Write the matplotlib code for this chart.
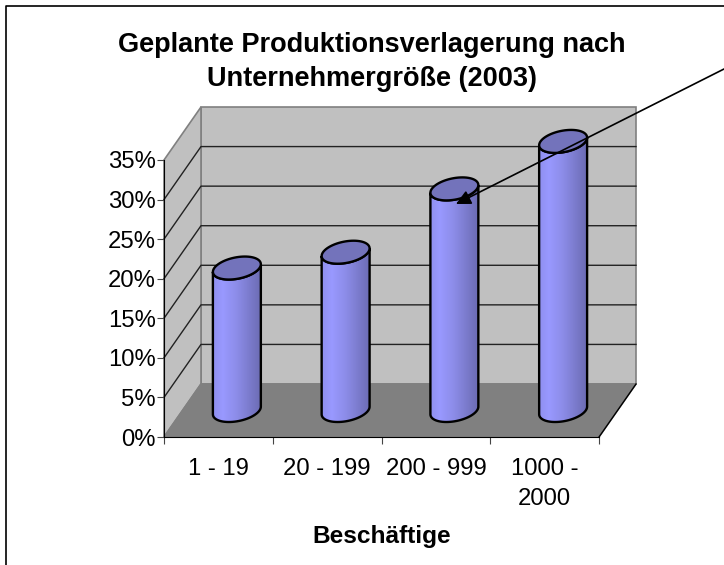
import numpy as np
import matplotlib
matplotlib.use('Agg')
import matplotlib.pyplot as plt
from matplotlib.patches import Polygon, FancyArrowPatch
from matplotlib.colors import LinearSegmentedColormap

plt.rcParams['font.family'] = ['Liberation Sans', 'DejaVu Sans']

categories = ['1 - 19', '20 - 199', '200 - 999', '1000 -\n2000']
values = [18, 20, 28, 34]
y_ticks = [0, 5, 10, 15, 20, 25, 30, 35]
title = 'Geplante Produktionsverlagerung nach\nUnternehmergröße (2003)'
x_title = 'Beschäftige'

W, H = 724, 565
fig = plt.figure(figsize=(W / 100, H / 100), dpi=100)
fig.patch.set_facecolor('white')

# figure frame
fig.add_artist(plt.Line2D([5.5 / W, 5.5 / W, 1], [0, 1 - 6 / H, 1 - 6 / H], color='black', lw=1.2))

# front plane of the 3d box
ax = fig.add_axes([164 / W, (H - 437) / H, 435 / W, 277 / H])
ax.set_xlim(0, 4)
ax.set_ylim(0, 35)
ax.patch.set_visible(False)

# depth of the box in data units
dx = 37 / 435 * 4
dy = 53 / 277 * 35


def wall(points, color, edge):
    ax.add_patch(Polygon(points, closed=True, fc=color, ec=edge, lw=1.2, clip_on=False, zorder=1))


wall([(dx, dy), (4 + dx, dy), (4 + dx, 35 + dy), (dx, 35 + dy)], '#c0c0c0', '#808080')
wall([(0, 0), (dx, dy), (dx, 35 + dy), (0, 35)], '#c0c0c0', '#808080')
wall([(0, 0), (4, 0), (4 + dx, dy), (dx, dy)], '#808080', '#808080')
ax.plot([4, 4 + dx], [0, dy], color='black', lw=1, clip_on=False, zorder=1.5)

# gridlines on both walls
for t in y_ticks[1:-1]:
    ax.plot([0, dx, 4 + dx], [t, t + dy, t + dy], color='#222222', lw=1, clip_on=False, zorder=1.5)

# cylinders
bar_cmap = LinearSegmentedColormap.from_list(
    'bar', [(0, '#9090f0'), (0.2, '#9999ff'), (0.5, '#8c8ce8'), (1, '#6c6cb4')])
rx = 22.6 / 435 * 4
skew_x = 8 / 435 * 4
ry = 11.5 / 277 * 35
t = np.linspace(0, 2 * np.pi, 73)
half_w = np.hypot(rx, skew_x)
gradient = np.linspace(0, 1, 64).reshape(1, -1)

for i, v in enumerate(values):
    cx = i + 0.5 + dx / 2
    base = dy / 2
    top = base + v
    ex = rx * np.cos(t) + skew_x * np.sin(t)
    ey = ry * np.sin(t)
    # lower half of the ellipse between the two silhouette points
    a = np.arctan2(skew_x, rx)
    lower = np.linspace(a + np.pi, a + 2 * np.pi, 37)
    lx = rx * np.cos(lower) + skew_x * np.sin(lower)
    ly = ry * np.sin(lower)
    body = np.vstack([
        np.column_stack([cx + lx, base + ly]),
        np.column_stack([cx + lx[::-1], top + ly[::-1]]),
    ])
    im = ax.imshow(gradient, extent=[cx - half_w, cx + half_w, base - ry, top + ry],
                   cmap=bar_cmap, aspect='auto', zorder=3)
    im.set_clip_path(Polygon(body, closed=True, transform=ax.transData))
    im.set_clip_box(fig.bbox)
    ax.add_patch(Polygon(body, closed=True, fc='none', ec='black', lw=1.7, clip_on=False, zorder=3.2))
    ax.add_patch(Polygon(np.column_stack([cx + ex, top + ey]), closed=True, fc='#7373bb',
                         ec='black', lw=1.7, clip_on=False, zorder=3.4))
ax.set_xlim(0, 4)
ax.set_ylim(0, 35)

# axes, ticks, labels
for s in ['top', 'right']:
    ax.spines[s].set_visible(False)
for s in ['left', 'bottom']:
    ax.spines[s].set_color('black')
    ax.spines[s].set_zorder(2)
ax.set_yticks(y_ticks)
ax.set_yticklabels([f'{v}%' for v in y_ticks], fontsize=17.2)
ax.set_xticks(range(5))
ax.set_xticklabels([])
ax.set_xticks(np.arange(len(categories)) + 0.5, minor=True)
ax.set_xticklabels(categories, minor=True, fontsize=17.2, linespacing=1.5)
ax.tick_params(axis='x', which='minor', length=0, pad=15)
ax.tick_params(axis='both', which='major', length=5, width=0.8, color='#444444')
ax.tick_params(axis='y', pad=1)

fig.text(372 / W, 1 - 62 / H, title, ha='center', va='center', fontsize=19.5,
         fontweight='bold', linespacing=1.4)
fig.text(382 / W, 1 - 536 / H, x_title, ha='center', va='center', fontsize=17.6, fontweight='bold')

# arrow pointing at the third column
fig.add_artist(FancyArrowPatch(
    (724 / W, 1 - 69 / H), (456 / W, 1 - 204 / H), transform=fig.transFigure,
    arrowstyle='-|>', mutation_scale=22, color='black', lw=1.2, shrinkA=0, shrinkB=0, zorder=10))

fig.savefig('out.png', dpi=100)
